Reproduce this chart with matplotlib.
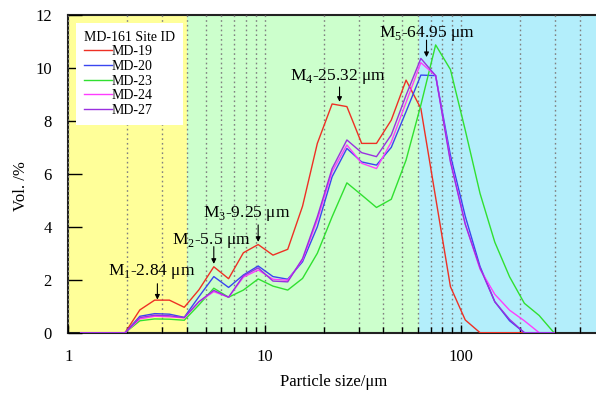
import matplotlib
matplotlib.use("Agg")
import matplotlib.pyplot as plt

plt.rcParams['font.family'] = ['Liberation Serif', 'DejaVu Serif']
plt.rcParams['mathtext.fontset'] = 'custom'
plt.rcParams['mathtext.rm'] = 'Liberation Serif'

sizes = [1.156, 1.375, 1.635, 1.945, 2.312, 2.75, 3.27, 3.89, 4.62, 5.5, 6.54, 7.78,
         9.25, 11.0, 13.08, 15.56, 18.5, 22.0, 26.16, 31.11, 37.0, 44.0, 52.33, 62.23,
         74.0, 88.0, 104.7, 124.5, 148.0, 176.0, 209.3, 248.9, 296.0]

md19 = [0, 0, 0, 0, 0.86, 1.23, 1.23, 0.96, 1.62, 2.49, 2.04, 3.02, 3.33, 2.93, 3.15, 4.78,
        7.15, 8.64, 8.54, 7.15, 7.15, 8.03, 9.54, 8.47, 5.1, 1.74, 0.48, 0, 0, 0, 0, 0, 0]
md20 = [0, 0, 0, 0, 0.62, 0.72, 0.70, 0.58, 1.36, 2.12, 1.71, 2.18, 2.52, 2.12, 2.02, 2.68,
        4.0, 5.89, 6.96, 6.45, 6.33, 7.0, 8.35, 9.73, 9.71, 6.7, 4.4, 2.5, 1.17, 0.45, 0, 0, 0]
md23 = [0, 0, 0, 0, 0.45, 0.52, 0.51, 0.47, 1.05, 1.68, 1.34, 1.61, 2.03, 1.76, 1.61, 2.05,
        3.0, 4.38, 5.66, 5.2, 4.73, 5.04, 6.52, 8.6, 10.87, 9.94, 7.65, 5.26, 3.42, 2.11, 1.11, 0.65, 0]
md24 = [0, 0, 0, 0, 0.52, 0.62, 0.60, 0.56, 1.17, 1.55, 1.34, 2.10, 2.37, 2.02, 1.98, 2.75,
        4.26, 6.08, 7.09, 6.40, 6.20, 7.20, 8.7, 10.2, 9.71, 6.5, 4.1, 2.4, 1.45, 0.85, 0.45, 0, 0]
md27 = [0, 0, 0, 0, 0.57, 0.66, 0.64, 0.57, 1.17, 1.6, 1.34, 2.15, 2.45, 1.95, 1.92, 2.8,
        4.38, 6.2, 7.28, 6.8, 6.65, 7.47, 8.97, 10.36, 9.71, 6.45, 4.1, 2.45, 1.17, 0.5, 0, 0, 0]

series_names = ['MD-19', 'MD-20', 'MD-23', 'MD-24', 'MD-27']
series_colors = ['#EE3024', '#3A46F0', '#30E030', '#FF3CFF', '#9A30E0']

modes = [r'M$_\mathregular{1}$-2.84 μm', r'M$_\mathregular{2}$-5.5 μm', r'M$_\mathregular{3}$-9.25 μm',
         r'M$_\mathregular{4}$-25.32 μm', r'M$_\mathregular{5}$-64.95 μm']
mode_arrow_x = [2.84, 5.5, 9.25, 24.0, 66.5]
mode_arrow_y = [(1.85, 1.25), (3.25, 2.6), (4.07, 3.43), (9.28, 8.72), (11.05, 10.41)]
mode_text_xy = [(2.66, 2.30), (5.32, 3.50), (8.1, 4.52), (23.6, 9.69), (66.9, 11.32)]

fig = plt.figure(figsize=(5.96, 3.94), dpi=100)
ax = fig.add_axes([68.3 / 596, 1 - 332.7 / 394, (598.7 - 68.3) / 596, (332.7 - 15) / 394])

ax.set_xscale('log')
ax.set_xlim(1, 500)
ax.set_ylim(0, 12)

ax.axvspan(1, 4, color='#FFFF99', zorder=0, lw=0)
ax.axvspan(4, 61, color='#CCFFCC', zorder=0, lw=0)
ax.axvspan(61, 500, color='#B3EEFB', zorder=0, lw=0)

ax.grid(True, which='both', axis='x', linestyle=(0, (1.2, 2.2)), color='#808080', lw=1.0, zorder=1)
ax.set_axisbelow(False)

for vals, name, col in zip([md19, md20, md23, md24, md27], series_names, series_colors):
    ax.plot(sizes, vals, color=col, lw=1.0, label=name, zorder=3)

for txt, ax_x, (y0, y1), (tx, ty) in zip(modes, mode_arrow_x, mode_arrow_y, mode_text_xy):
    ax.text(tx, ty, txt, ha='center', va='center', fontsize=12.5, zorder=5)
    ax.annotate('', xy=(ax_x, y1), xytext=(ax_x, y0),
                arrowprops=dict(arrowstyle='-|>', color='black', lw=0.8,
                                mutation_scale=7, shrinkA=0, shrinkB=0), zorder=5)

ax.set_xticks([1, 10, 100])
ax.set_xticklabels(['1', '10', '100'])
ax.set_yticks([0, 2, 4, 6, 8, 10, 12])
ax.tick_params(axis='x', which='major', direction='in', length=6, width=1.0, pad=12, labelsize=12)
ax.tick_params(axis='x', which='minor', direction='in', length=4, width=1.0, labelbottom=False)
ax.tick_params(axis='y', which='major', direction='in', length=10, width=1.0, pad=12, labelsize=12)
ax.minorticks_on()
ax.yaxis.set_minor_locator(matplotlib.ticker.NullLocator())

for s in ['left', 'top', 'bottom']:
    ax.spines[s].set_linewidth(1.5)
    ax.spines[s].set_color('#222222')
ax.spines['right'].set_visible(False)

ax.set_xlabel('Particle size/μm', fontsize=12, labelpad=6)
ax.set_ylabel('Vol. /%', fontsize=12)
ax.yaxis.set_label_coords(-0.075, 0.46)

leg = ax.legend(title='MD-161 Site ID', loc='upper left', bbox_to_anchor=(0.015, 0.975),
                fontsize=10, title_fontsize=10, frameon=True, fancybox=False,
                edgecolor='none', facecolor='white', framealpha=1.0,
                handlelength=2.0, handletextpad=0.0, labelspacing=0.12,
                borderpad=0.55, borderaxespad=0.0)
leg._legend_box.align = 'left'
leg.set_zorder(6)

fig.savefig('out.png', dpi=100)
